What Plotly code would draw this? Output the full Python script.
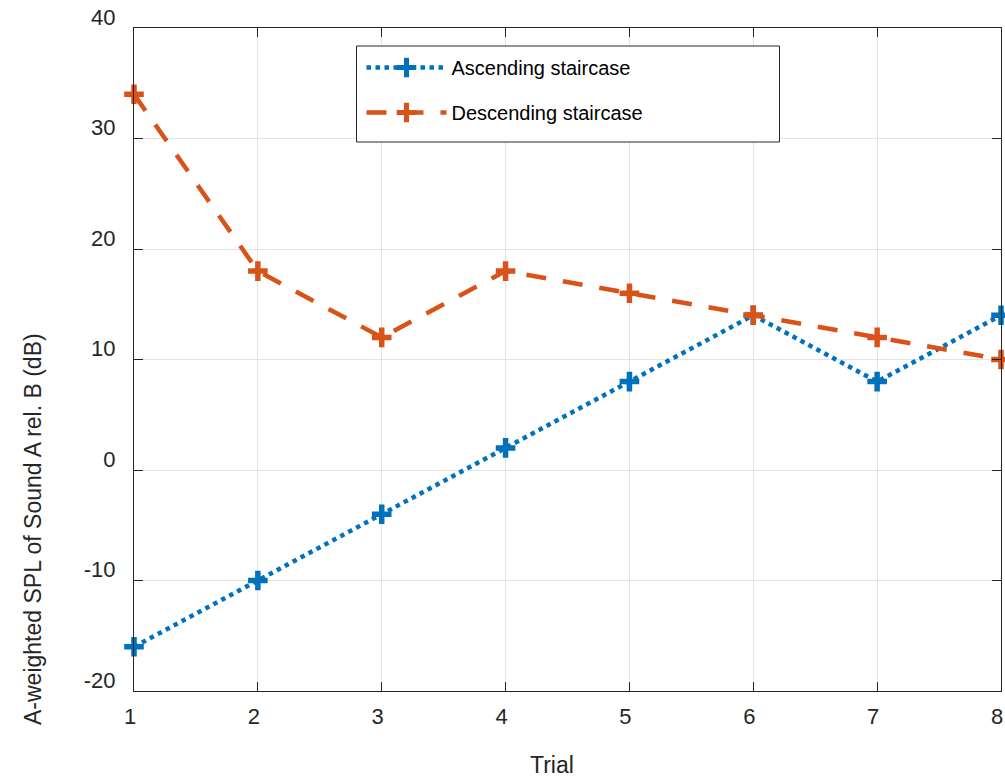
import plotly.graph_objects as go

trials = [1, 2, 3, 4, 5, 6, 7, 8]
ascending = [-16, -10, -4, 2, 8, 14, 8, 14]
descending = [34, 18, 12, 18, 16, 14, 12, 10]
series_names = ["Ascending staircase", "Descending staircase"]
x_ticks = [1, 2, 3, 4, 5, 6, 7, 8]
y_ticks = [-20, -10, 0, 10, 20, 30, 40]
y_tick_text = ["-20", "-10", "0", "10", "20", "30", "40"]

BLUE = "#0072BD"
ORANGE = "#D95319"
AX = "#262626"
FONT = "Liberation Sans, Arial, sans-serif"

fig = go.Figure()
fig.add_trace(go.Scatter(
    x=trials, y=ascending, name=series_names[0], mode="lines+markers",
    line=dict(color=BLUE, width=4.5, dash="dot"),
    marker=dict(symbol="cross-thin", size=14, line=dict(color=BLUE, width=5.5), color=BLUE),
    cliponaxis=False, legendgroup="a"))
fig.add_trace(go.Scatter(
    x=trials, y=descending, name=series_names[1], mode="lines+markers",
    line=dict(color=ORANGE, width=4.5, dash="20px,17px"),
    marker=dict(symbol="cross-thin", size=14, line=dict(color=ORANGE, width=5.5), color=ORANGE),
    cliponaxis=False, legendgroup="b"))

axis_common = dict(
    showgrid=True, gridcolor="#e3e3e3", gridwidth=1,
    showline=True, linecolor=AX, linewidth=1, mirror="ticks",
    ticks="inside", ticklen=9, tickcolor=AX, tickwidth=1,
    tickfont=dict(family=FONT, size=22, color=AX),
    zeroline=False, ticklabeloverflow="allow",
)
fig.update_xaxes(range=[1, 8], tickvals=x_ticks, ticklabelshift=-4, ticklabelstandoff=6, **axis_common)
fig.update_yaxes(range=[-20, 40], tickvals=y_ticks, ticktext=y_tick_text,
                 ticklabelshift=-11, ticklabelstandoff=13, **axis_common)

fig.add_annotation(text="Trial", xref="paper", yref="paper", x=(553 - 134) / 869, y=0, yshift=-74,
                   showarrow=False, font=dict(family=FONT, size=23, color=AX),
                   xanchor="center", yanchor="middle")
fig.add_annotation(text="A-weighted SPL of Sound A rel. B (dB)", xref="paper", yref="paper",
                   x=0, xshift=-101, y=(691 - 529) / 663, textangle=-90, showarrow=False,
                   font=dict(family=FONT, size=23, color=AX), xanchor="center", yanchor="middle")

# legend box
fig.add_shape(type="rect", xref="x", yref="y",
              x0=1 + (357 - 134) / 869 * 7, x1=1 + (781 - 134) / 869 * 7,
              y0=40 - (142 - 28) / 663 * 60, y1=40 - (46 - 28) / 663 * 60,
              line=dict(color=AX, width=1), fillcolor="white", layer="above")

fig.update_layout(
    width=1005, height=779,
    margin=dict(l=134, r=2, t=28, b=88),
    paper_bgcolor="white", plot_bgcolor="white",
    showlegend=True,
    legend=dict(x=(362 - 134) / 869, y=1 - (48 - 28) / 663, xanchor="left", yanchor="top",
                bgcolor="rgba(0,0,0,0)", borderwidth=0, itemwidth=80,
                tracegroupgap=16, font=dict(family=FONT, size=20, color="black")),
)
fig.write_html("out.html")
